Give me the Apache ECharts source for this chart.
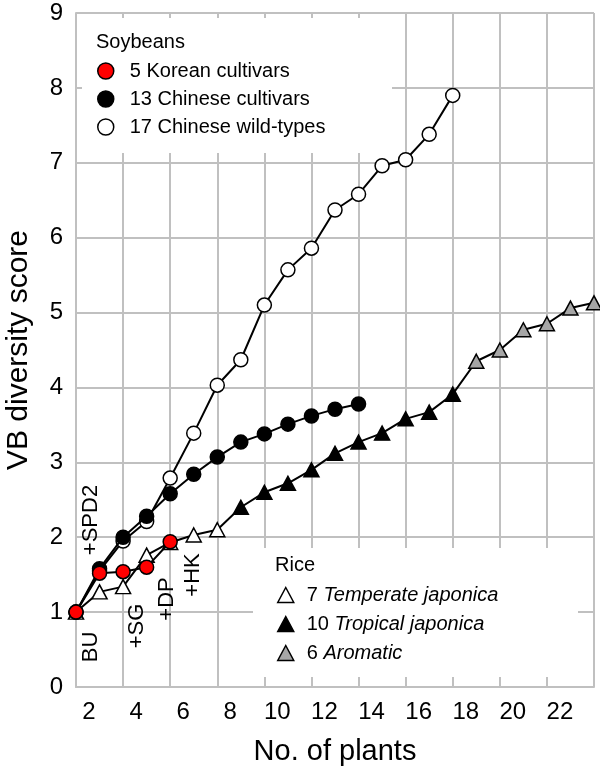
<!DOCTYPE html>
<html><head><meta charset="utf-8">
<script src="https://cdn.jsdelivr.net/npm/echarts@6/dist/echarts.min.js"></script>
<style>html,body{margin:0;padding:0;background:#fff}#c{width:600px;height:774px}</style>
</head><body><div id="c"></div>
<script>
const FONT = "'Liberation Sans', Arial, Helvetica, sans-serif";

// Soybeans: VB diversity score vs. number of plants (first point = 1 plant)
const koreanValues  = [1.00, 1.52, 1.54, 1.60, 1.94];
const chineseValues = [1.00, 1.58, 2.00, 2.28, 2.58, 2.84, 3.07, 3.27, 3.38, 3.51, 3.62, 3.71, 3.78];
const wildValues    = [1.00, 1.55, 1.95, 2.21, 2.79, 3.39, 4.03, 4.37, 5.10, 5.57, 5.86, 6.37, 6.58, 6.96, 7.04, 7.38, 7.90];

// Rice: one cumulative curve (7 temperate, then 10 tropical, then 6 aromatic)
const temperateValues = [1.00, 1.27, 1.34, 1.76, 1.93, 2.03, 2.10];
const tropicalValues  = [2.40, 2.60, 2.72, 2.90, 3.12, 3.27, 3.39, 3.58, 3.67, 3.91];
const aromaticValues  = [4.35, 4.50, 4.77, 4.85, 5.06, 5.13];

const soyNames  = ['5 Korean cultivars', '13 Chinese cultivars', '17 Chinese wild-types'];
const riceNames = ['7 Temperate japonica', '10 Tropical japonica', '6 Aromatic'];

const xTickLabels = ['2','4','6','8','10','12','14','16','18','20','22'];
const yTickLabels = ['0','1','2','3','4','5','6','7','8','9'];
const annotationTexts = ['BU', '+SPD2', '+SG', '+DP', '+HK'];

const GRID = '#c0c0c0';
const RED = '#ff0000', BLACK = '#000000', WHITE = '#ffffff', GRAY = '#a6a6a6';

const toPts = (arr, start) => arr.map((v, i) => [start + i, v]);
const tempPts = toPts(temperateValues, 1);
const tropPts = toPts(tropicalValues, temperateValues.length + 1);
const aroPts  = toPts(aromaticValues, temperateValues.length + tropicalValues.length + 1);

const chart = echarts.init(document.getElementById('c'), null, {renderer: 'canvas'});

const markerStyle = c => ({color: c, borderColor: BLACK, borderWidth: 1.5, opacity: 1});

const option = {
  animation: false,
  backgroundColor: '#fff',
  textStyle: {fontFamily: FONT},
  grid: {left: 76, right: 6, top: 13, bottom: 87, containLabel: false, outerBoundsMode: 'none'},
  xAxis: [
    {
      type: 'value', min: 1, max: 23,
      axisLine: {show: true, lineStyle: {color: GRID, width: 2}},
      axisTick: {show: false}, axisLabel: {show: false}, splitLine: {show: false},
      name: 'No. of plants', nameLocation: 'middle', nameGap: 50,
      nameTextStyle: {fontSize: 29, color: '#000', fontFamily: FONT}
    },
    {
      type: 'value', min: 0, max: 22, interval: 2, position: 'bottom',
      axisLine: {show: false}, axisTick: {show: false},
      splitLine: {show: true, lineStyle: {color: GRID, width: 2}},
      axisLabel: {
        formatter: (v, i) => (xTickLabels[i] !== undefined ? xTickLabels[i] : ''),
        fontSize: 24, color: '#000', fontFamily: FONT, margin: 13,
        padding: [0, 0, 0, 26]
      }
    }
  ],
  yAxis: {
    type: 'value', min: 0, max: 9, interval: 1,
    axisLine: {show: true, lineStyle: {color: GRID, width: 2}},
    axisTick: {show: false},
    splitLine: {show: true, lineStyle: {color: GRID, width: 2}},
    axisLabel: {formatter: (v, i) => yTickLabels[i], fontSize: 24, color: '#000', fontFamily: FONT, margin: 13},
    name: 'VB diversity score', nameLocation: 'middle', nameGap: 42,
    nameTextStyle: {fontSize: 30, color: '#000', fontFamily: FONT}
  },
  legend: [
    {
      orient: 'vertical', left: 97, top: 61, padding: 0,
      itemWidth: 16, itemHeight: 16, itemGap: 8, selectedMode: false,
      data: [
        {name: soyNames[0], icon: 'circle', itemStyle: markerStyle(RED)},
        {name: soyNames[1], icon: 'circle', itemStyle: markerStyle(BLACK)},
        {name: soyNames[2], icon: 'circle', itemStyle: markerStyle(WHITE)}
      ],
      textStyle: {fontSize: 20, color: '#000', fontFamily: FONT, padding: [0, 0, 0, 11]}
    },
    {
      orient: 'vertical', left: 277, top: 585, padding: 0,
      itemWidth: 16, itemHeight: 15, itemGap: 9, selectedMode: false,
      data: [
        {name: riceNames[0], icon: 'triangle', itemStyle: markerStyle(WHITE)},
        {name: riceNames[1], icon: 'triangle', itemStyle: markerStyle(BLACK)},
        {name: riceNames[2], icon: 'triangle', itemStyle: markerStyle(GRAY)}
      ],
      formatter: name => {
        const k = name.indexOf(' ');
        return '{n|' + name.slice(0, k) + ' }{i|' + name.slice(k + 1) + '}';
      },
      textStyle: {
        fontSize: 20, color: '#000', fontFamily: FONT, padding: [0, 0, 0, 8],
        rich: {
          n: {fontSize: 20, color: '#000', fontFamily: FONT},
          i: {fontSize: 20, color: '#000', fontFamily: FONT, fontStyle: 'italic'}
        }
      }
    }
  ],
  graphic: [
    {type: 'rect', z: 1, silent: true, shape: {x: 82, y: 18, width: 310, height: 135}, style: {fill: '#fff'}},
    {type: 'rect', z: 1, silent: true, shape: {x: 253, y: 548, width: 325, height: 129}, style: {fill: '#fff'}},
    {type: 'text', z: 10, x: 96, y: 42, style: {text: 'Soybeans', fontSize: 20, fontFamily: FONT, fill: '#000', textAlign: 'left', textVerticalAlign: 'middle', align: 'left', verticalAlign: 'middle'}},
    {type: 'text', z: 10, x: 275, y: 565, style: {text: 'Rice', fontSize: 20, fontFamily: FONT, fill: '#000', textAlign: 'left', textVerticalAlign: 'middle', align: 'left', verticalAlign: 'middle'}},
    ...[[91, 647], [91, 520], [137, 626], [167, 599], [193, 575]].map((p, k) => ({
      type: 'text', z: 10, x: p[0], y: p[1], rotation: Math.PI / 2,
      style: {text: annotationTexts[k], fontSize: 22, fontFamily: FONT, fill: '#000',
        textAlign: 'center', textVerticalAlign: 'middle', align: 'center', verticalAlign: 'middle'}
    }))
  ],
  series: [
    {
      name: 'rice', type: 'line', xAxisIndex: 0, z: 2,
      data: tempPts.concat(tropPts, aroPts),
      symbol: 'none', lineStyle: {color: BLACK, width: 2}, silent: true
    },
    {name: riceNames[0], type: 'scatter', xAxisIndex: 0, z: 3, data: tempPts, symbol: 'triangle', symbolSize: [15, 14], itemStyle: markerStyle(WHITE)},
    {name: riceNames[1], type: 'scatter', xAxisIndex: 0, z: 3, data: tropPts, symbol: 'triangle', symbolSize: [15, 14], itemStyle: markerStyle(BLACK)},
    {name: riceNames[2], type: 'scatter', xAxisIndex: 0, z: 3, data: aroPts, symbol: 'triangle', symbolSize: [15, 14], itemStyle: markerStyle(GRAY)},
    {
      name: soyNames[2], type: 'line', xAxisIndex: 0, z: 4, data: toPts(wildValues, 1),
      symbol: 'circle', symbolSize: 14, showAllSymbol: true,
      lineStyle: {color: BLACK, width: 2}, itemStyle: markerStyle(WHITE)
    },
    {
      name: soyNames[1], type: 'line', xAxisIndex: 0, z: 5, data: toPts(chineseValues, 1),
      symbol: 'circle', symbolSize: 14, showAllSymbol: true,
      lineStyle: {color: BLACK, width: 2}, itemStyle: markerStyle(BLACK)
    },
    {
      name: soyNames[0], type: 'line', xAxisIndex: 0, z: 6, data: toPts(koreanValues, 1),
      symbol: 'circle', symbolSize: 14, showAllSymbol: true,
      lineStyle: {color: BLACK, width: 2}, itemStyle: markerStyle(RED)
    }
  ]
};
chart.setOption(option);
</script>
</body></html>
